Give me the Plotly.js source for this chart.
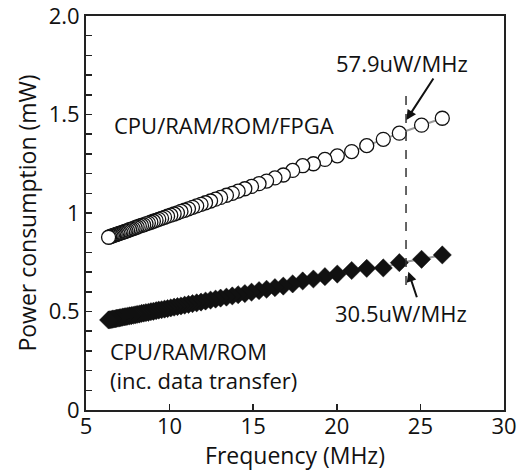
<!DOCTYPE html>
<html>
<head>
<meta charset="utf-8">
<script src="https://cdn.plot.ly/plotly-3.0.1.min.js"></script>
<style>html,body{margin:0;padding:0;background:#fff;}#chart{width:518px;height:471px;}</style>
</head>
<body>
<div id="chart"></div>
<script>
// Frequency (MHz), measured from high to low
const freqMHz = [26.31, 25.07, 23.74, 22.78, 21.79, 20.89, 20.03, 19.29, 18.60, 17.96, 17.36, 16.80,
  16.30, 15.80, 15.35, 14.90, 14.50, 14.10, 13.75, 13.40, 13.05, 12.75, 12.45, 12.15, 11.88, 11.62,
  11.37, 11.13, 10.90, 10.68, 10.47, 10.27, 10.07, 9.88, 9.70, 9.52, 9.35, 9.19, 9.03, 8.88, 8.73,
  8.59, 8.45, 8.32, 8.19, 8.06, 7.94, 7.82, 7.71, 7.60, 7.49, 7.39, 7.29, 7.19, 7.09, 7.00, 6.91,
  6.82, 6.74, 6.66, 6.58, 6.50, 6.42, 6.35];
// CPU/RAM/ROM/FPGA power (mW)
const powerFPGA = [1.481, 1.446, 1.405, 1.374, 1.342, 1.312, 1.290, 1.272, 1.250, 1.240, 1.216, 1.193,
  1.178, 1.162, 1.149, 1.135, 1.123, 1.111, 1.100, 1.090, 1.079, 1.070, 1.061, 1.052, 1.044, 1.036,
  1.029, 1.021, 1.014, 1.008, 1.001, 0.995, 0.989, 0.984, 0.978, 0.973, 0.968, 0.963, 0.958, 0.953, 0.949,
  0.945, 0.940, 0.937, 0.933, 0.929, 0.925, 0.921, 0.918, 0.915, 0.911, 0.908, 0.905, 0.902, 0.899, 0.897, 0.894,
  0.891, 0.889, 0.886, 0.884, 0.882, 0.879, 0.877];
// CPU/RAM/ROM (inc. data transfer) power (mW)
const powerCore = [0.787, 0.765, 0.748, 0.721, 0.719, 0.708, 0.690, 0.677, 0.665, 0.655, 0.640, 0.629,
  0.621, 0.613, 0.606, 0.598, 0.591, 0.585, 0.579, 0.573, 0.568, 0.563, 0.558, 0.553, 0.548, 0.544,
  0.540, 0.536, 0.532, 0.528, 0.525, 0.522, 0.518, 0.515, 0.512, 0.509, 0.507, 0.504, 0.501, 0.499, 0.496,
  0.494, 0.492, 0.490, 0.487, 0.485, 0.483, 0.481, 0.479, 0.478, 0.476, 0.474, 0.473, 0.471, 0.469, 0.468, 0.466,
  0.465, 0.463, 0.462, 0.461, 0.459, 0.458, 0.457];

const yTickVals = [0, 0.5, 1, 1.5, 2];
const yTickText = ['0', '0.5', '1', '1.5', '2.0'];
const xTickVals = [5, 10, 15, 20, 25, 30];
const xTickText = ['5', '10', '15', '20', '25', '30'];

const labelFPGA = 'CPU/RAM/ROM/FPGA';
const labelCore = 'CPU/RAM/ROM<br>(inc. data transfer)';
const slopeFPGA = '57.9uW/MHz';
const slopeCore = '30.5uW/MHz';
const markerFreq = 24.14;

const FONT = '"Open Sans", sans-serif';

const traces = [
  {
    x: freqMHz, y: powerCore, type: 'scatter', mode: 'lines+markers',
    line: {color: '#9a9a9a', width: 2},
    marker: {symbol: 'diamond', size: 14, color: '#111111', line: {color: '#111111', width: 0.5}},
    hoverinfo: 'skip'
  },
  {
    x: freqMHz, y: powerFPGA, type: 'scatter', mode: 'lines+markers',
    line: {color: '#9a9a9a', width: 2},
    marker: {symbol: 'circle', size: 14, color: '#ffffff', line: {color: '#111111', width: 1.3}},
    hoverinfo: 'skip'
  }
];

const layout = {
  width: 518, height: 471,
  margin: {l: 86, r: 14, t: 16, b: 61},
  paper_bgcolor: '#ffffff', plot_bgcolor: '#ffffff',
  showlegend: false,
  font: {family: FONT, color: '#111111', size: 23},
  xaxis: {
    range: [5, 30], tickmode: 'array', tickvals: xTickVals, ticktext: xTickText,
    ticks: 'inside', ticklen: 6, tickwidth: 1.5, tickcolor: '#222',
    showline: true, mirror: true, linecolor: '#222', linewidth: 2,
    showgrid: false, zeroline: false,
    tickfont: {family: FONT, size: 22, color: '#111'},
    ticklabelstandoff: -4, ticklabeloverflow: 'allow',
    title: {text: 'Frequency (MHz)', font: {family: FONT, size: 23, color: '#111'}, standoff: 4},
    automargin: false
  },
  yaxis: {
    range: [0, 2], tickmode: 'array', tickvals: yTickVals, ticktext: yTickText,
    ticks: 'inside', ticklen: 6, tickwidth: 1.5, tickcolor: '#222',
    minor: {dtick: 0.1, tick0: 0, ticks: 'inside', ticklen: 6, tickwidth: 1.5, tickcolor: '#222', showgrid: false},
    showline: true, mirror: true, linecolor: '#222', linewidth: 2,
    showgrid: false, zeroline: false,
    tickfont: {family: FONT, size: 22, color: '#111'},
    ticklabeloverflow: 'allow',
    title: {text: 'Power consumption (mW)', font: {family: FONT, size: 23, color: '#111'}, standoff: 6},
    automargin: false
  },
  shapes: [
    {type: 'line', xref: 'x', yref: 'y', x0: markerFreq, x1: markerFreq, y0: 0.635, y1: 1.63,
     line: {color: '#333', width: 1.5, dash: 'dash'}}
  ],
  annotations: [
    {xref: 'x', yref: 'y', x: 6.54, y: 1.447, text: labelFPGA, showarrow: false,
     xanchor: 'left', yanchor: 'middle', font: {family: FONT, size: 22, color: '#111'}},
    {xref: 'x', yref: 'y', x: 6.33, y: 0.224, text: labelCore, showarrow: false, align: 'left',
     xanchor: 'left', yanchor: 'middle', font: {family: FONT, size: 22, color: '#111'}},
    {xref: 'x', yref: 'y', x: 23.88, y: 1.761, text: slopeFPGA, showarrow: false,
     xanchor: 'center', yanchor: 'middle', font: {family: FONT, size: 22, color: '#111'}},
    {xref: 'x', yref: 'y', x: 23.82, y: 0.494, text: slopeCore, showarrow: false,
     xanchor: 'center', yanchor: 'middle', font: {family: FONT, size: 22, color: '#111'}},
    {xref: 'x', yref: 'y', x: 24.16, y: 1.472, text: '', showarrow: true,
     ax: 28, ay: -43, arrowhead: 2, arrowsize: 1, arrowwidth: 2, arrowcolor: '#111', standoff: 0, startstandoff: 0},
    {xref: 'x', yref: 'y', x: 24.28, y: 0.702, text: '', showarrow: true,
     ax: 9, ay: 27, arrowhead: 2, arrowsize: 1, arrowwidth: 2, arrowcolor: '#111', standoff: 0, startstandoff: 0}
  ]
};

Plotly.newPlot('chart', traces, layout, {staticPlot: true, displayModeBar: false});
</script>
</body>
</html>
